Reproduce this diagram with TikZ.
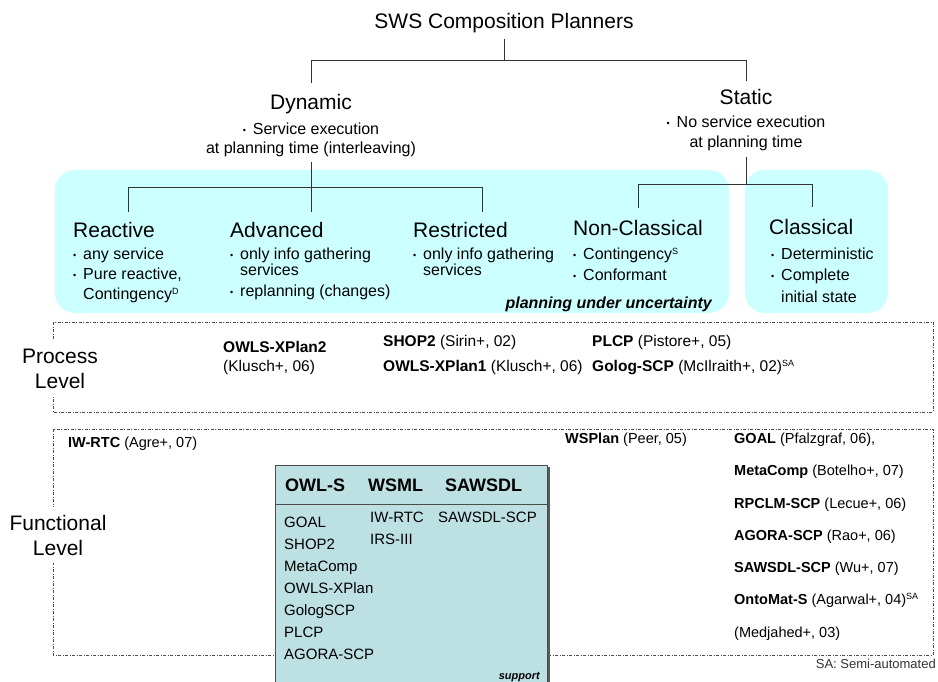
\documentclass[tikz,border=0pt]{standalone}
\usepackage{fontspec}
\setmainfont{Liberation Sans}
\usetikzlibrary{calc}

\newcommand\fsz[2]{\fontsize{#1pt}{#2pt}\selectfont}
% small list bullet followed by its gap
\newcommand\bul{\makebox[10pt][l]{\raisebox{1pt}{\fontsize{9pt}{9pt}\selectfont •}}}
% small raised marker (D, S, SA)
\newcommand\sups[1]{\raisebox{5pt}{\fontsize{9pt}{9pt}\selectfont #1}}

\definecolor{panel}{HTML}{CCFFFF}
\definecolor{tablefill}{HTML}{BDE0E3}
\definecolor{lineclr}{HTML}{333333}

\tikzset{
  txt/.style={inner sep=0pt, anchor=base west},
  ctxt/.style={inner sep=0pt, anchor=base},
  conn/.style={draw=lineclr, line width=1pt},
  ddash/.style={draw=black!70, line width=0.8pt, dash pattern=on 3pt off 1.5pt on 1pt off 1.5pt},
  head/.style={txt, font=\fsz{21}{25}},
  item/.style={txt, font=\fsz{16}{18}},
  citem/.style={ctxt, font=\fsz{16}{18}},
  lvl/.style={inner xsep=4pt, inner ysep=8pt, fill=white, align=center, font=\fsz{21}{25}},
  pref/.style={txt, font=\fsz{15.5}{18}},
  fref/.style={txt, font=\fsz{14.5}{17}},
  tab/.style={txt, font=\fsz{15}{17}},
  thead/.style={txt, font=\bfseries\fsz{18}{20}},
}

\begin{document}
\begin{tikzpicture}[x=1pt, y=-1pt]
\useasboundingbox (0,0) rectangle (938,682);
\clip (0,0) rectangle (938,682);
\fill[white] (0,0) rectangle (938,682);

% shaded panels
\fill[panel, rounded corners=20pt] (55,170) rectangle (729,313);
\fill[panel, rounded corners=20pt] (745,170) rectangle (888,313);

% top of the tree
\node[ctxt, font=\fsz{21}{25}] (title) at (504,29) {SWS Composition Planners};
\node[ctxt, font=\fsz{21}{25}] (dyn) at (311,110) {Dynamic};
\node[citem] (dyn1) at (311,135) {\bul Service execution};
\node[citem] (dyn2) at (311,154) {at planning time (interleaving)};
\node[ctxt, font=\fsz{21}{25}] (stat) at (746,105) {Static};
\node[citem] (stat1) at (746,128) {\bul No service execution};
\node[citem] (stat2) at (746,148) {at planning time};

\coordinate (jT) at (504,61);
\coordinate (dTop) at (311,83);
\coordinate (sTop) at (746,81);
\draw[conn, shorten <=5pt] (title.south) -- (jT);
\draw[conn] (dTop) -- (dTop |- jT) -- (sTop |- jT) -- (sTop);

% dynamic branch
\coordinate (jD) at (311,188);
\coordinate (rTop) at (128,212);
\coordinate (aTop) at (311,212);
\coordinate (xTop) at (482,212);
\draw[conn, shorten <=4pt] (dyn2.south) -- (aTop);
\draw[conn] (rTop) -- (rTop |- jD) -- (xTop |- jD) -- (xTop);

% static branch
\coordinate (jS) at (746,185);
\coordinate (ncTop) at (638,208);
\coordinate (clTop) at (812,207);
\draw[conn, shorten <=5pt] (stat2.south) -- (jS);
\draw[conn] (ncTop) -- (ncTop |- jS) -- (clTop |- jS) -- (clTop);

% planner families
\node[head] (reac) at (73,237) {Reactive};
\node[item] (reac1) at (73,259) {\bul any service};
\node[item] (reac2) at (73,279) {\bul Pure reactive,};
\node[item] (reac3) at (83,299) {Contingency\sups{D}};

\node[head] (adv) at (230,237) {Advanced};
\node[item] (adv1) at (230,259) {\bul only info gathering};
\node[item] (adv2) at (240,276) {services};
\node[item] (adv3) at (230,296) {\bul replanning (changes)};

\node[head] (restr) at (413,237) {Restricted};
\node[item] (restr1) at (413,259) {\bul only info gathering};
\node[item] (restr2) at (423,276) {services};

\node[head] (ncl) at (573,236) {Non-Classical};
\node[item] (ncl1) at (573,259) {\bul Contingency\sups{S}};
\node[item] (ncl2) at (573,280) {\bul Conformant};

\node[head] (cl) at (769,235) {Classical};
\node[item] (cl1) at (771,259) {\bul Deterministic};
\node[item] (cl2) at (771,280) {\bul Complete};
\node[item] (cl3) at (781,302) {initial state};

\node[txt, anchor=base east, font=\bfseries\itshape\fsz{16}{18}] (unc) at (712,308) {planning under uncertainty};

% process level
\draw[ddash] (53,322) rectangle (933,412);
\node[lvl] (plevel) at (60,369) {Process\\Level};
\node[pref] (xp2a) at (223,352) {\bfseries OWLS-XPlan2};
\node[pref] (xp2b) at (223,371) {(Klusch+, 06)};
\node[pref] (shop) at (383,346) {\textbf{SHOP2} (Sirin+, 02)};
\node[pref] (xp1) at (383,371) {\textbf{OWLS-XPlan1} (Klusch+, 06)};
\node[pref] (plcp) at (592,346) {\textbf{PLCP} (Pistore+, 05)};
\node[pref] (golog) at (592,371) {\textbf{Golog-SCP} (McIlraith+, 02)\sups{SA}};

% functional level
\draw[ddash] (53,429) rectangle (933,655);
\node[lvl] (flevel) at (58,535) {Functional\\Level};
\node[fref] (iwrtc) at (68,447) {\textbf{IW-RTC} (Agre+, 07)};
\node[fref] (wsplan) at (565,443) {\textbf{WSPlan} (Peer, 05)};
\node[fref] (goal) at (734,443) {\textbf{GOAL} (Pfalzgraf, 06),};
\node[fref] (meta) at (734,475) {\textbf{MetaComp} (Botelho+, 07)};
\node[fref] (rpclm) at (734,508) {\textbf{RPCLM-SCP} (Lecue+, 06)};
\node[fref] (agora) at (734,540) {\textbf{AGORA-SCP} (Rao+, 06)};
\node[fref] (sawsdl) at (734,572) {\textbf{SAWSDL-SCP} (Wu+, 07)};
\node[fref] (onto) at (734,604) {\textbf{OntoMat-S} (Agarwal+, 04)\sups{SA}};
\node[fref] (medj) at (734,637) {(Medjahed+, 03)};
\node[txt, anchor=base east, font=\fsz{13}{15}, text=black!80] (sa) at (936,668) {SA: Semi-automated};

% language support table
\fill[black!65] (547,467) rectangle (550,690);
\draw[fill=tablefill, draw=black!70, line width=0.8pt] (275,465) rectangle (547,700);
\draw[black!70, line width=0.8pt] (275,504) -- (547,504);
\node[thead] (hOwls) at (285,491) {OWL-S};
\node[thead] (hWsml) at (368,491) {WSML};
\node[thead] (hSaw) at (445,491) {SAWSDL};
\node[tab] (t1) at (284,527) {GOAL};
\node[tab] (t2) at (284,549) {SHOP2};
\node[tab] (t3) at (284,571) {MetaComp};
\node[tab] (t4) at (284,593) {OWLS-XPlan};
\node[tab] (t5) at (284,615) {GologSCP};
\node[tab] (t6) at (284,637) {PLCP};
\node[tab] (t7) at (284,659) {AGORA-SCP};
\node[tab] (u1) at (370,522) {IW-RTC};
\node[tab] (u2) at (370,544) {IRS-III};
\node[tab] (v1) at (438,522) {SAWSDL-SCP};
\node[txt, anchor=base east, font=\bfseries\itshape\fsz{11}{12}] (sup) at (540,679) {support};
\end{tikzpicture}
\end{document}
